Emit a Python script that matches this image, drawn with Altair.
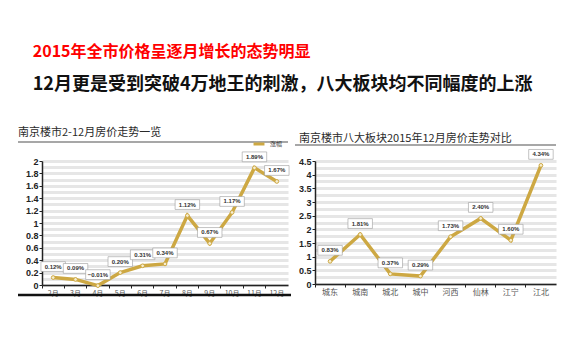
import altair as alt
import pandas as pd

# ---- data ----
months = ["2月", "3月", "4月", "5月", "6月", "7月", "8月", "9月", "10月", "11月", "12月"]
month_vals = [0.12, 0.09, -0.01, 0.20, 0.31, 0.34, 1.12, 0.67, 1.17, 1.89, 1.67]

areas = ["城东", "城南", "城北", "城中", "河西", "仙林", "江宁", "江北"]
area_vals = [0.83, 1.81, 0.37, 0.29, 1.73, 2.40, 1.60, 4.34]

series_name = "涨幅"
left_ticks = [0, 0.1, 0.2, 0.3, 0.4, 0.5, 0.6, 0.7, 0.8, 0.9, 1.0,
              1.1, 1.2, 1.3, 1.4, 1.5, 1.6, 1.7, 1.8, 1.9, 2.0]
right_ticks = [0, 0.25, 0.5, 0.75, 1.0, 1.25, 1.5, 1.75, 2.0, 2.25, 2.5,
               2.75, 3.0, 3.25, 3.5, 3.75, 4.0, 4.25, 4.5]

headline = "2015年全市价格呈逐月增长的态势明显"
subline = "12月更是受到突破4万地王的刺激，八大板块均不同幅度的上涨"
left_title = "南京楼市2-12月房价走势一览"
right_title = "南京楼市八大板块2015年12月房价走势对比"

GOLD = "#CDA843"
CJK = "Noto Sans CJK SC"
BOX = "M-1,-0.4H1V0.4H-1Z"


def panel(cats, vals, title, w, h, ymax, ticks, step_mul, title_offset, title_dx,
          rule_y, rule_x, legend_x, legend_y, bottom_line, label_font_size):
    df = pd.DataFrame({"cat": cats, "v": vals, "s": [series_name] * len(cats)})
    x = alt.X("cat:N", sort=cats, title=None,
              scale=alt.Scale(type="band", paddingInner=0, paddingOuter=0),
              axis=alt.Axis(bandPosition=0, labelAngle=0,
                            labelFont=CJK, labelFontSize=label_font_size,
                            labelColor="#555", tickSize=3, tickColor="#222",
                            domainColor="#222", domainWidth=1.5, labelPadding=1,
                            grid=False))
    test = f"round(datum.value*{step_mul}) % 2 == 0"
    y = alt.Y("v:Q", title=None,
              scale=alt.Scale(domain=[0, ymax], nice=False, zero=False),
              axis=alt.Axis(values=ticks,
                            labelExpr=f"{test} ? format(datum.value, '~g') : ''",
                            labelFont="Liberation Sans", labelFontSize=9,
                            labelFontWeight="bold", labelColor="#222",
                            tickSize=3, tickColor="#222",
                            tickOpacity={"condition": {"test": test, "value": 1}, "value": 0},
                            domainColor="#222", domainWidth=1.5, labelPadding=1,
                            grid=True, gridColor="#e6e6e6", gridWidth=3))
    base = alt.Chart(df).encode(x=x, y=y)
    line = base.mark_line(strokeWidth=3.5).encode(
        color=alt.Color("s:N", scale=alt.Scale(range=[GOLD]),
                        legend=alt.Legend(title=None, orient="none",
                                          legendX=legend_x, legendY=legend_y,
                                          labelFont=CJK, labelFontSize=6,
                                          labelColor="#333", symbolStrokeWidth=3,
                                          symbolSize=120, padding=0))
    )
    dots = base.mark_circle(size=14, color="#f7eed0", stroke=GOLD,
                            strokeWidth=1, opacity=1)
    boxes = base.mark_point(shape=BOX, size=600, filled=True, fill="white",
                            stroke="#9a9a9a", strokeWidth=0.6, opacity=1,
                            fillOpacity=1, yOffset=-11)
    labels = base.transform_calculate(
        lab="format(datum.v, '.2f') + '%'"
    ).mark_text(fontSize=6, font="Liberation Sans", fontWeight="bold",
                color="#333", yOffset=-11).encode(text="lab:N")
    one = alt.Data(values=[{}])
    underline = alt.Chart(one).mark_rule(color="#8a8a8a", strokeWidth=1.5).encode(
        x=alt.value(rule_x), x2=alt.value(w), y=alt.value(rule_y))
    layers = [line, dots, boxes, labels, underline]
    if bottom_line:
        layers.append(alt.Chart(one).mark_rule(color="#111", strokeWidth=2.5).encode(
            x=alt.value(-24), x2=alt.value(w + 3), y=alt.value(h + 10)))
    return alt.layer(*layers).properties(
        width=w, height=h,
        title=alt.TitleParams(title, anchor="start", frame="group",
                              dx=title_dx, offset=title_offset,
                              font=CJK, fontSize=11, fontWeight="normal",
                              color="#2a2a2a"))


left = panel(months, month_vals, left_title, 246, 124, 2, left_ticks, 10,
             3, -24, -19, -24, 210, -24, True, 7)
right = panel(areas, area_vals, right_title, 241, 123, 4.5, right_ticks, 4,
              0, -16, -16, -20, 218, -19, False, 8)

chart = alt.hconcat(left, right, spacing=1).properties(
    title=alt.TitleParams(headline, subtitle=subline, anchor="start",
                          frame="bounds", dx=16, offset=33,
                          font=CJK, fontSize=16, fontWeight="bold", color="#FF0000",
                          subtitleFont=CJK, subtitleFontSize=18,
                          subtitleFontWeight="bold", subtitleColor="#111",
                          subtitlePadding=16),
    padding={"left": 8, "top": 36, "right": 4, "bottom": 4},
    background="white",
).configure_view(stroke=None)

chart.save("out.html", embed_options={"renderer": "svg", "actions": False})
